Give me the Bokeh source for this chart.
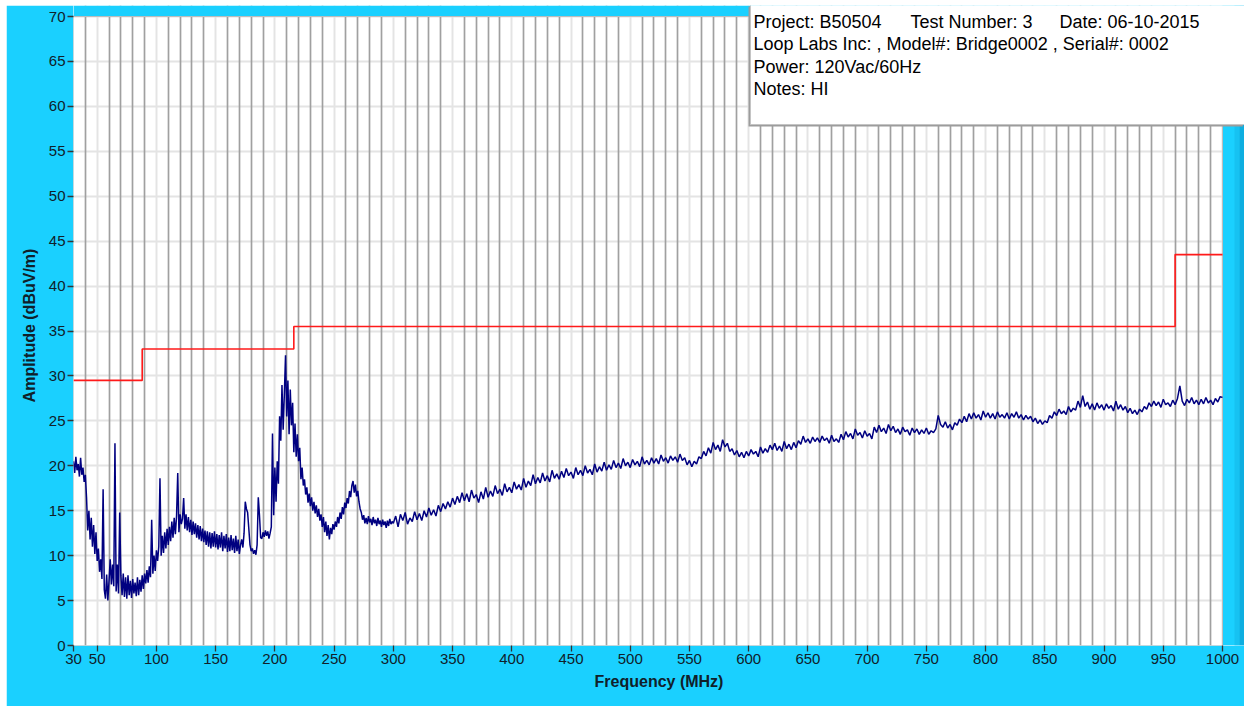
from bokeh.plotting import figure
from bokeh.models import FixedTicker, Grid, Label, Range1d
from bokeh.embed import file_html
from bokeh.resources import INLINE

# ---- data -------------------------------------------------------------
# measured amplitude, 30..299 MHz at 1 MHz steps (dBuV/m)
amp_low = [
    20.5, 19.2, 21.0, 19.5, 20.2, 18.8, 20.9, 19.0, 19.8, 18.2, 19.0,
    16.5, 12.8, 15.0, 11.8, 14.2, 11.0, 13.4, 10.2, 12.6, 9.4,
    10.8, 8.2, 9.6, 7.4, 17.4, 6.2, 5.2, 7.9, 5.0, 7.2,
    9.6, 6.8, 9.0, 6.6, 22.5, 6.0, 9.0, 5.8, 14.8, 7.8,
    5.6, 8.0, 5.4, 7.6, 5.2, 7.8, 5.6, 7.2, 5.3, 7.4,
    5.8, 7.0, 5.5, 7.6, 5.6, 7.3, 6.0, 7.8, 6.3, 8.0,
    6.9, 8.4, 7.0, 8.8, 7.6, 14.0, 8.0, 10.0, 8.3, 10.6,
    9.4, 11.0, 18.6, 10.0, 12.2, 10.3, 12.6, 10.8, 13.0, 11.2,
    13.2, 11.6, 13.8, 12.0, 14.2, 12.4, 14.4, 19.2, 12.6, 14.6,
    13.5, 14.1, 16.4, 13.0, 14.6, 12.8, 14.3, 12.6, 14.0, 12.3,
    13.8, 12.4, 13.6, 12.0, 13.4, 11.8, 13.3, 11.6, 13.0, 11.5,
    12.8, 11.2, 12.7, 11.0, 12.6, 10.8, 12.5, 11.0, 12.7, 10.9,
    12.4, 10.7, 12.3, 10.9, 12.6, 10.5, 12.2, 10.8, 12.4, 10.4,
    12.0, 10.5, 12.3, 10.6, 11.9, 10.3, 12.2, 10.5, 11.8, 10.2,
    11.2, 11.8, 10.9, 12.5, 16.0, 15.2, 14.8, 13.0, 11.2, 10.5,
    10.8, 10.2, 10.6, 10.1, 11.2, 16.5, 14.5, 12.0, 11.9, 12.6,
    12.1, 12.8, 12.2, 12.7, 11.9, 12.5, 13.2, 23.6, 14.5, 19.8,
    16.0, 20.5, 18.0, 25.5, 22.8, 29.0, 24.0, 28.0, 32.3, 25.5,
    29.5, 23.5, 28.5, 24.5, 27.0, 21.5, 24.7, 21.0, 23.5, 20.5,
    22.0, 18.5, 19.8, 17.8, 18.5, 16.8, 17.6, 15.9, 16.9, 15.5,
    16.5, 15.0, 16.0, 14.7, 15.6, 14.3, 15.2, 13.9, 14.6, 13.2,
    14.3, 12.6, 13.8, 12.2, 13.4, 11.8, 13.1, 12.4, 13.5, 12.9,
    13.8, 13.2, 14.3, 13.6, 14.8, 14.1, 15.4, 14.6, 15.9, 15.3,
    16.4, 15.8, 17.2, 16.5, 17.8, 18.3, 17.0, 17.9, 16.6, 17.2,
    16.0, 15.2, 14.8, 14.0, 14.5, 13.6, 14.2, 13.5, 14.4, 13.7,
    14.1, 13.4, 14.3, 13.6, 14.0, 13.3, 14.2, 13.5, 13.9, 13.2,
    14.0, 13.4, 13.8, 13.1, 13.9, 13.3, 14.1, 13.5, 13.8,
]

# measured amplitude, 300..1000 MHz at 2 MHz steps (dBuV/m)
amp_high = [
    13.6, 14.4, 13.2, 14.6, 13.9, 14.8, 13.5, 14.2, 13.8, 14.9,
    14.0, 14.7, 13.9, 15.0, 14.3, 15.3, 14.5, 15.1, 14.4, 15.6,
    14.9, 15.8, 15.2, 16.0, 15.4, 16.4, 15.7, 16.6, 15.9, 17.0,
    16.1, 16.9, 16.0, 17.3, 16.4, 16.8, 15.9, 17.1, 16.3, 17.6,
    16.5, 17.2, 16.6, 17.8, 16.9, 17.4, 16.7, 18.0, 17.1, 17.6,
    17.0, 18.2, 17.4, 17.9, 17.3, 18.6, 17.6, 18.3, 17.8, 19.0,
    18.0, 18.7, 18.1, 19.2, 18.3, 18.9, 18.2, 19.5, 18.6, 19.1,
    18.5, 19.4, 18.7, 19.7, 18.9, 19.3, 18.6, 19.8, 19.0, 19.5,
    18.9, 20.0, 19.2, 19.6, 19.0, 20.2, 19.3, 19.9, 19.4, 20.4,
    19.5, 20.1, 19.6, 20.6, 19.8, 20.3, 19.7, 20.8, 20.0, 20.4,
    19.8, 20.7, 20.1, 20.5, 19.9, 21.0, 20.2, 20.6, 20.1, 20.9,
    20.3, 20.8, 20.2, 21.2, 20.5, 20.9, 20.3, 21.1, 20.6, 21.0,
    20.4, 21.3, 20.6, 20.9, 20.1, 20.6, 19.9, 20.5, 20.2, 21.0,
    20.8, 21.6, 21.1, 22.0, 21.4, 22.6, 21.8, 22.3, 21.6, 22.9,
    22.1, 22.5, 21.6, 21.9, 21.2, 21.7, 21.0, 21.5, 20.9, 21.6,
    21.1, 21.8, 21.3, 21.6, 21.0, 22.1, 21.4, 21.9, 21.5, 22.3,
    21.8, 22.5, 21.7, 22.2, 21.6, 22.7, 21.9, 22.4, 21.8, 22.6,
    22.0, 22.8, 22.4, 23.3, 22.6, 23.0, 22.5, 23.2, 22.7, 23.1,
    22.6, 23.3, 22.8, 23.1, 22.5, 23.4, 22.7, 23.0, 22.6, 23.5,
    22.9, 23.8, 23.2, 23.6, 23.0, 24.1, 23.4, 23.7, 23.1, 23.9,
    23.3, 23.6, 23.0, 24.3, 23.7, 24.5, 23.8, 24.2, 23.6, 24.6,
    23.9, 24.4, 23.7, 24.1, 23.5, 24.3, 23.8, 24.0, 23.4, 24.2,
    23.7, 24.1, 23.5, 24.0, 23.6, 24.2, 23.5, 23.9, 23.7, 24.1,
    25.6, 24.6, 24.3, 24.9, 24.2, 24.6, 24.0, 24.8, 24.5, 25.2,
    24.8, 25.5, 24.9, 25.8, 25.2, 25.9, 25.3, 25.7, 25.1, 26.1,
    25.4, 25.9, 25.3, 25.8, 25.2, 26.0, 25.4, 25.7, 25.3, 25.9,
    25.2, 25.8, 25.4, 26.0, 25.3, 25.7, 25.1, 25.6, 25.2, 25.5,
    24.9, 25.3, 24.7, 25.1, 24.6, 25.0, 24.8, 25.6, 25.3, 26.0,
    25.6, 26.3, 25.8, 26.1, 25.7, 26.6, 26.0, 26.4, 26.2, 27.2,
    26.5, 27.8, 26.6, 27.1, 26.3, 26.9, 26.2, 27.0, 26.4, 26.8,
    26.2, 26.9, 26.4, 26.7, 26.1, 27.2, 26.3, 26.8, 26.2, 26.6,
    25.9, 26.4, 25.8, 26.2, 25.7, 26.3, 26.0, 26.6, 26.3, 27.0,
    26.6, 27.2, 26.7, 27.1, 26.5, 27.4, 26.8, 27.0, 26.6, 27.3,
    26.8, 27.5, 28.9, 27.2, 26.7, 27.4, 27.0, 27.6, 26.9, 27.3,
    26.8, 27.4, 26.9, 27.6, 27.0, 27.3, 26.8, 27.5, 27.1, 27.7,
    27.6,
]

freq_low = [30 + i for i in range(len(amp_low))]
freq_high = [300 + 2 * i for i in range(len(amp_high))]

# limit line (FCC class B, 10 m)
limit_edges = [30, 88, 216, 960, 1000]
limit_levels = [29.5, 33.0, 35.5, 43.5]

x_ticks = [30, 50, 100, 150, 200, 250, 300, 350, 400, 450, 500,
           550, 600, 650, 700, 750, 800, 850, 900, 950, 1000]
y_ticks = [0, 5, 10, 15, 20, 25, 30, 35, 40, 45, 50, 55, 60, 65, 70]

info_line1 = ["Project: B50504", "Test Number: 3", "Date: 06-10-2015"]
info_line2 = "Loop Labs Inc: , Model#: Bridge0002 , Serial#: 0002"
info_line3 = "Power: 120Vac/60Hz"
info_line4 = "Notes: HI"

# ---- layout constants -------------------------------------------------
FONT = "Liberation Sans"
CYAN = "#1ad0ff"
X0, X1, Y0, Y1 = 30, 1000, 0, 70          # visible plot area (data units)
W, H = 1238, 701                           # figure size
BL, BB = 67, 61                            # left / bottom borders
FRAME_W, FRAME_H = W - BL, H - BB          # frame reaches figure top & right
PLOT_W, PLOT_H = 1149, 629                 # white plot area in pixels
XMAX = X0 + (X1 - X0) * FRAME_W / PLOT_W   # extra room for the cyan strips
YMAX = Y1 * FRAME_H / PLOT_H


def px_to_x(px):
    return X0 + (X1 - X0) * px / PLOT_W


p = figure(width=W, height=H, output_backend="svg", toolbar_location=None,
           x_range=Range1d(X0, XMAX), y_range=Range1d(Y0, YMAX),
           min_border_left=BL, min_border_right=0,
           min_border_top=0, min_border_bottom=BB)
p.margin = (5, 0, 0, 6)
p.border_fill_color = CYAN
p.background_fill_color = "white"
p.outline_line_color = None

# grids
p.xgrid.ticker = FixedTicker(ticks=[t for t in range(50, 1001, 50)])
p.xgrid.grid_line_color = "#e4e4e4"
p.xgrid.grid_line_width = 2
p.ygrid.ticker = FixedTicker(ticks=y_ticks)
p.ygrid.grid_line_color = "#e4e4e4"
p.ygrid.grid_line_width = 2
dark_grid = Grid(dimension=0,
                 ticker=FixedTicker(ticks=[t for t in range(40, 1000, 10) if t % 50]),
                 grid_line_color="#a0a0a0", grid_line_width=1.7)
p.add_layout(dark_grid)

# axes
for ax in (p.xaxis[0], p.yaxis[0]):
    ax.axis_line_color = None
    ax.major_tick_line_color = "#333333"
    ax.major_tick_line_width = 1.3
    ax.major_tick_out = 6
    ax.major_tick_in = 0
    ax.minor_tick_line_color = None
    ax.major_label_text_font = FONT
    ax.major_label_text_font_size = "15px"
    ax.major_label_text_color = "#10202a"
    ax.axis_label_text_font = FONT
    ax.axis_label_text_font_size = "16px"
    ax.axis_label_text_font_style = "bold"
    ax.axis_label_text_color = "#10202a"

p.xaxis.ticker = FixedTicker(ticks=x_ticks)
p.yaxis.ticker = FixedTicker(ticks=y_ticks)
p.xaxis.axis_label = "Frequency (MHz)"
p.yaxis.axis_label = "Amplitude (dBuV/m)"
p.xaxis.major_label_standoff = 2
p.xaxis.axis_label_standoff = 6
p.yaxis.major_label_standoff = 2
p.yaxis.axis_label_standoff = 8

# cyan strips above and right of the plot area (part of the frame)
p.quad(left=[X0, X1], right=[XMAX, XMAX], bottom=[Y1, Y0], top=[YMAX, YMAX],
       fill_color=CYAN, line_color=None)
# darker bevel at the right edge
p.quad(left=[px_to_x(FRAME_W - 10), px_to_x(FRAME_W - 5)],
       right=[px_to_x(FRAME_W - 5), XMAX],
       bottom=[Y0, Y0], top=[YMAX, YMAX],
       fill_color=["#16c2f2", "#0eaee0"], line_color=None)
# plot-area outline
p.quad(left=[X0], right=[X1], bottom=[Y0], top=[Y1],
       fill_color=None, line_color="#bdbdbd", line_width=1)

# data
p.line(freq_low + freq_high, amp_low + amp_high, line_color="#000080", line_width=1.5)
p.step(limit_edges, limit_levels + [limit_levels[-1]], mode="after",
       line_color="#ff1a1a", line_width=1.6)

# info box (shadow + white panel), built from padded empty labels
BOX_W, BOX_H = 494, 119
p.add_layout(Label(x=675, y=519, x_units="screen", y_units="screen",
                   text=" ", text_font_size="1px", text_align="left",
                   text_baseline="bottom",
                   background_fill_color="#9c9c9c", background_fill_alpha=1.0,
                   padding=dict(left=0, right=BOX_W, top=BOX_H, bottom=0)))
p.add_layout(Label(x=677, y=521, x_units="screen", y_units="screen",
                   text=" ", text_font_size="1px", text_align="left",
                   text_baseline="bottom",
                   background_fill_color="white", background_fill_alpha=1.0,
                   border_line_color="#c4c4c4",
                   padding=dict(left=0, right=BOX_W, top=BOX_H, bottom=0)))

line_ys = [624, 601.5, 579, 556.5]
for xs, txt in zip([680, 837, 986], info_line1):
    p.add_layout(Label(x=xs, y=line_ys[0], x_units="screen", y_units="screen",
                       text=txt, text_font=FONT, text_font_size="18px",
                       text_baseline="alphabetic", text_color="black"))
for yy, txt in zip(line_ys[1:], [info_line2, info_line3, info_line4]):
    p.add_layout(Label(x=680, y=yy, x_units="screen", y_units="screen",
                       text=txt, text_font=FONT, text_font_size="18px",
                       text_baseline="alphabetic", text_color="black"))

open("out.html", "w").write(file_html(p, INLINE))
